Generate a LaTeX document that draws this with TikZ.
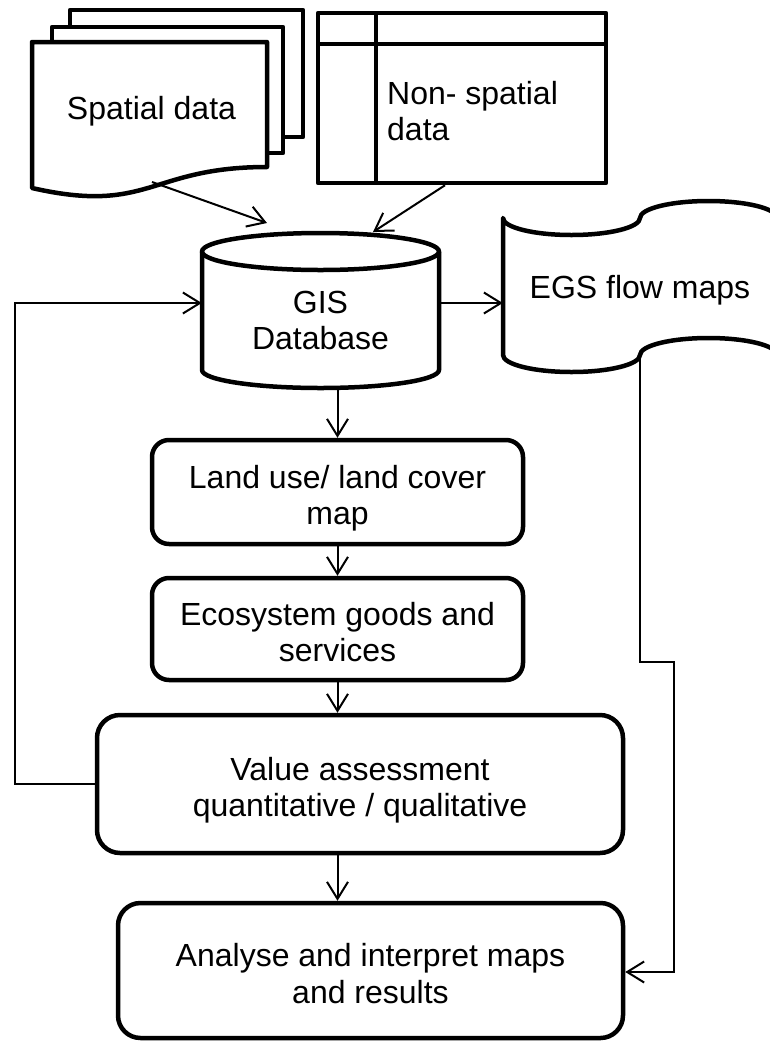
\documentclass[tikz,border=0pt]{standalone}
\usepackage{fontspec}
\setmainfont{Liberation Sans}
\usetikzlibrary{arrows.meta}

\begin{document}
\begin{tikzpicture}[x=1pt,y=-1pt,
  outline/.style={line width=4.5pt, line join=round},
  link/.style={line width=2pt},
  flow/.style={link, -{Straight Barb[length=17pt,width=21pt]}},
  txt/.style={font=\fontsize{32}{36.5}\selectfont, align=center, inner sep=0pt, text depth=0pt},
  stepbox/.style={txt, draw, outline, rounded corners=#1, text height=65pt}
]
\useasboundingbox (0,0) rectangle (770,1042);
\clip (0,0) rectangle (770,1042);

% ---- spatial data: stack of documents ----
\draw[outline] (70,27) -- (70,10) -- (303,10) -- (303,137) -- (283,137);
\draw[outline] (52,42) -- (52,27) -- (283,27) -- (283,153) -- (267,153);
\draw[outline] (32,42) -- (267,42) -- (267,167)
  .. controls (149.5,167) and (149.5,214.8) .. (32,188) -- cycle;
\node[txt] (sd) at (151.5,108) {Spatial data};
\coordinate (sdout) at (152,182);

% ---- non-spatial data: internal storage ----
\node[draw, outline, minimum width=288pt, minimum height=170pt, inner sep=0pt] (nsd) at (462,98) {};
\draw[outline] (376,13) -- (376,183);
\draw[outline] (318,44) -- (606,44);
\node[txt, align=left, anchor=west] (nsdtxt) at (387,111) {Non- spatial\\data};

% ---- GIS database: cylinder ----
\draw[outline] (202,251.5) -- (202,370)
  arc[start angle=180, end angle=360, x radius=118.5pt, y radius=18pt] -- (439,251.5);
\draw[outline] (320.5,251.5) ellipse[x radius=118.5pt, y radius=18.5pt];
\node[txt, minimum width=237pt, minimum height=135pt] (db) at (320.5,320.5) {GIS\\Database};
\coordinate (dbinL) at (267,223);
\coordinate (dbinR) at (373,232);

% ---- EGS flow maps: punched tape ----
\draw[outline] (503,218)
  arc[start angle=180, end angle=360, x radius=68.5pt, y radius=17pt]
  arc[start angle=180, end angle=0, x radius=68.5pt, y radius=17pt]
  -- (777,355)
  arc[start angle=0, end angle=180, x radius=68.5pt, y radius=17pt]
  arc[start angle=360, end angle=180, x radius=68.5pt, y radius=17pt]
  -- cycle;
\node[txt, minimum width=274pt, minimum height=137pt] (egs) at (640,286.5) {EGS flow maps};

% ---- process boxes ----
\node[stepbox=17pt, minimum width=371pt, minimum height=104pt] (lulc) at (337.5,492) {Land use/ land cover\\map};
\node[stepbox=17pt, minimum width=371pt, minimum height=102pt] (egsv) at (337.5,629) {Ecosystem goods and\\services};
\node[stepbox=23pt, minimum width=526pt, minimum height=138pt] (val) at (360,784) {Value assessment\\quantitative / qualitative};
\node[stepbox=22.5pt, minimum width=505pt, minimum height=135pt] (res) at (370.5,970.5) {Analyse and interpret maps\\and results};

% ---- connectors ----
\draw[flow] (sdout) -- (dbinL);
\draw[flow] ([xshift=-17pt]nsd.south) -- (dbinR);
\draw[flow] ([yshift=17.5pt]db.east) -- ([yshift=17.5pt]db.east -| egs.west);
\draw[flow] (db.south -| lulc.north) -- (lulc.north);
\draw[flow] (lulc.south) -- (egsv.north);
\draw[flow] (egsv.south) -- (egsv.south |- val.north);
\draw[flow] (val.south -| egsv.south) -- (res.north -| egsv.south);
\draw[flow] (val.west) -- ++(-80,0) |- ([yshift=17.5pt]db.west);
\draw[flow] (egs.south) -- ++(0,307) -- ++(34,0) |- ([yshift=-1.5pt]res.east);
\end{tikzpicture}
\end{document}
